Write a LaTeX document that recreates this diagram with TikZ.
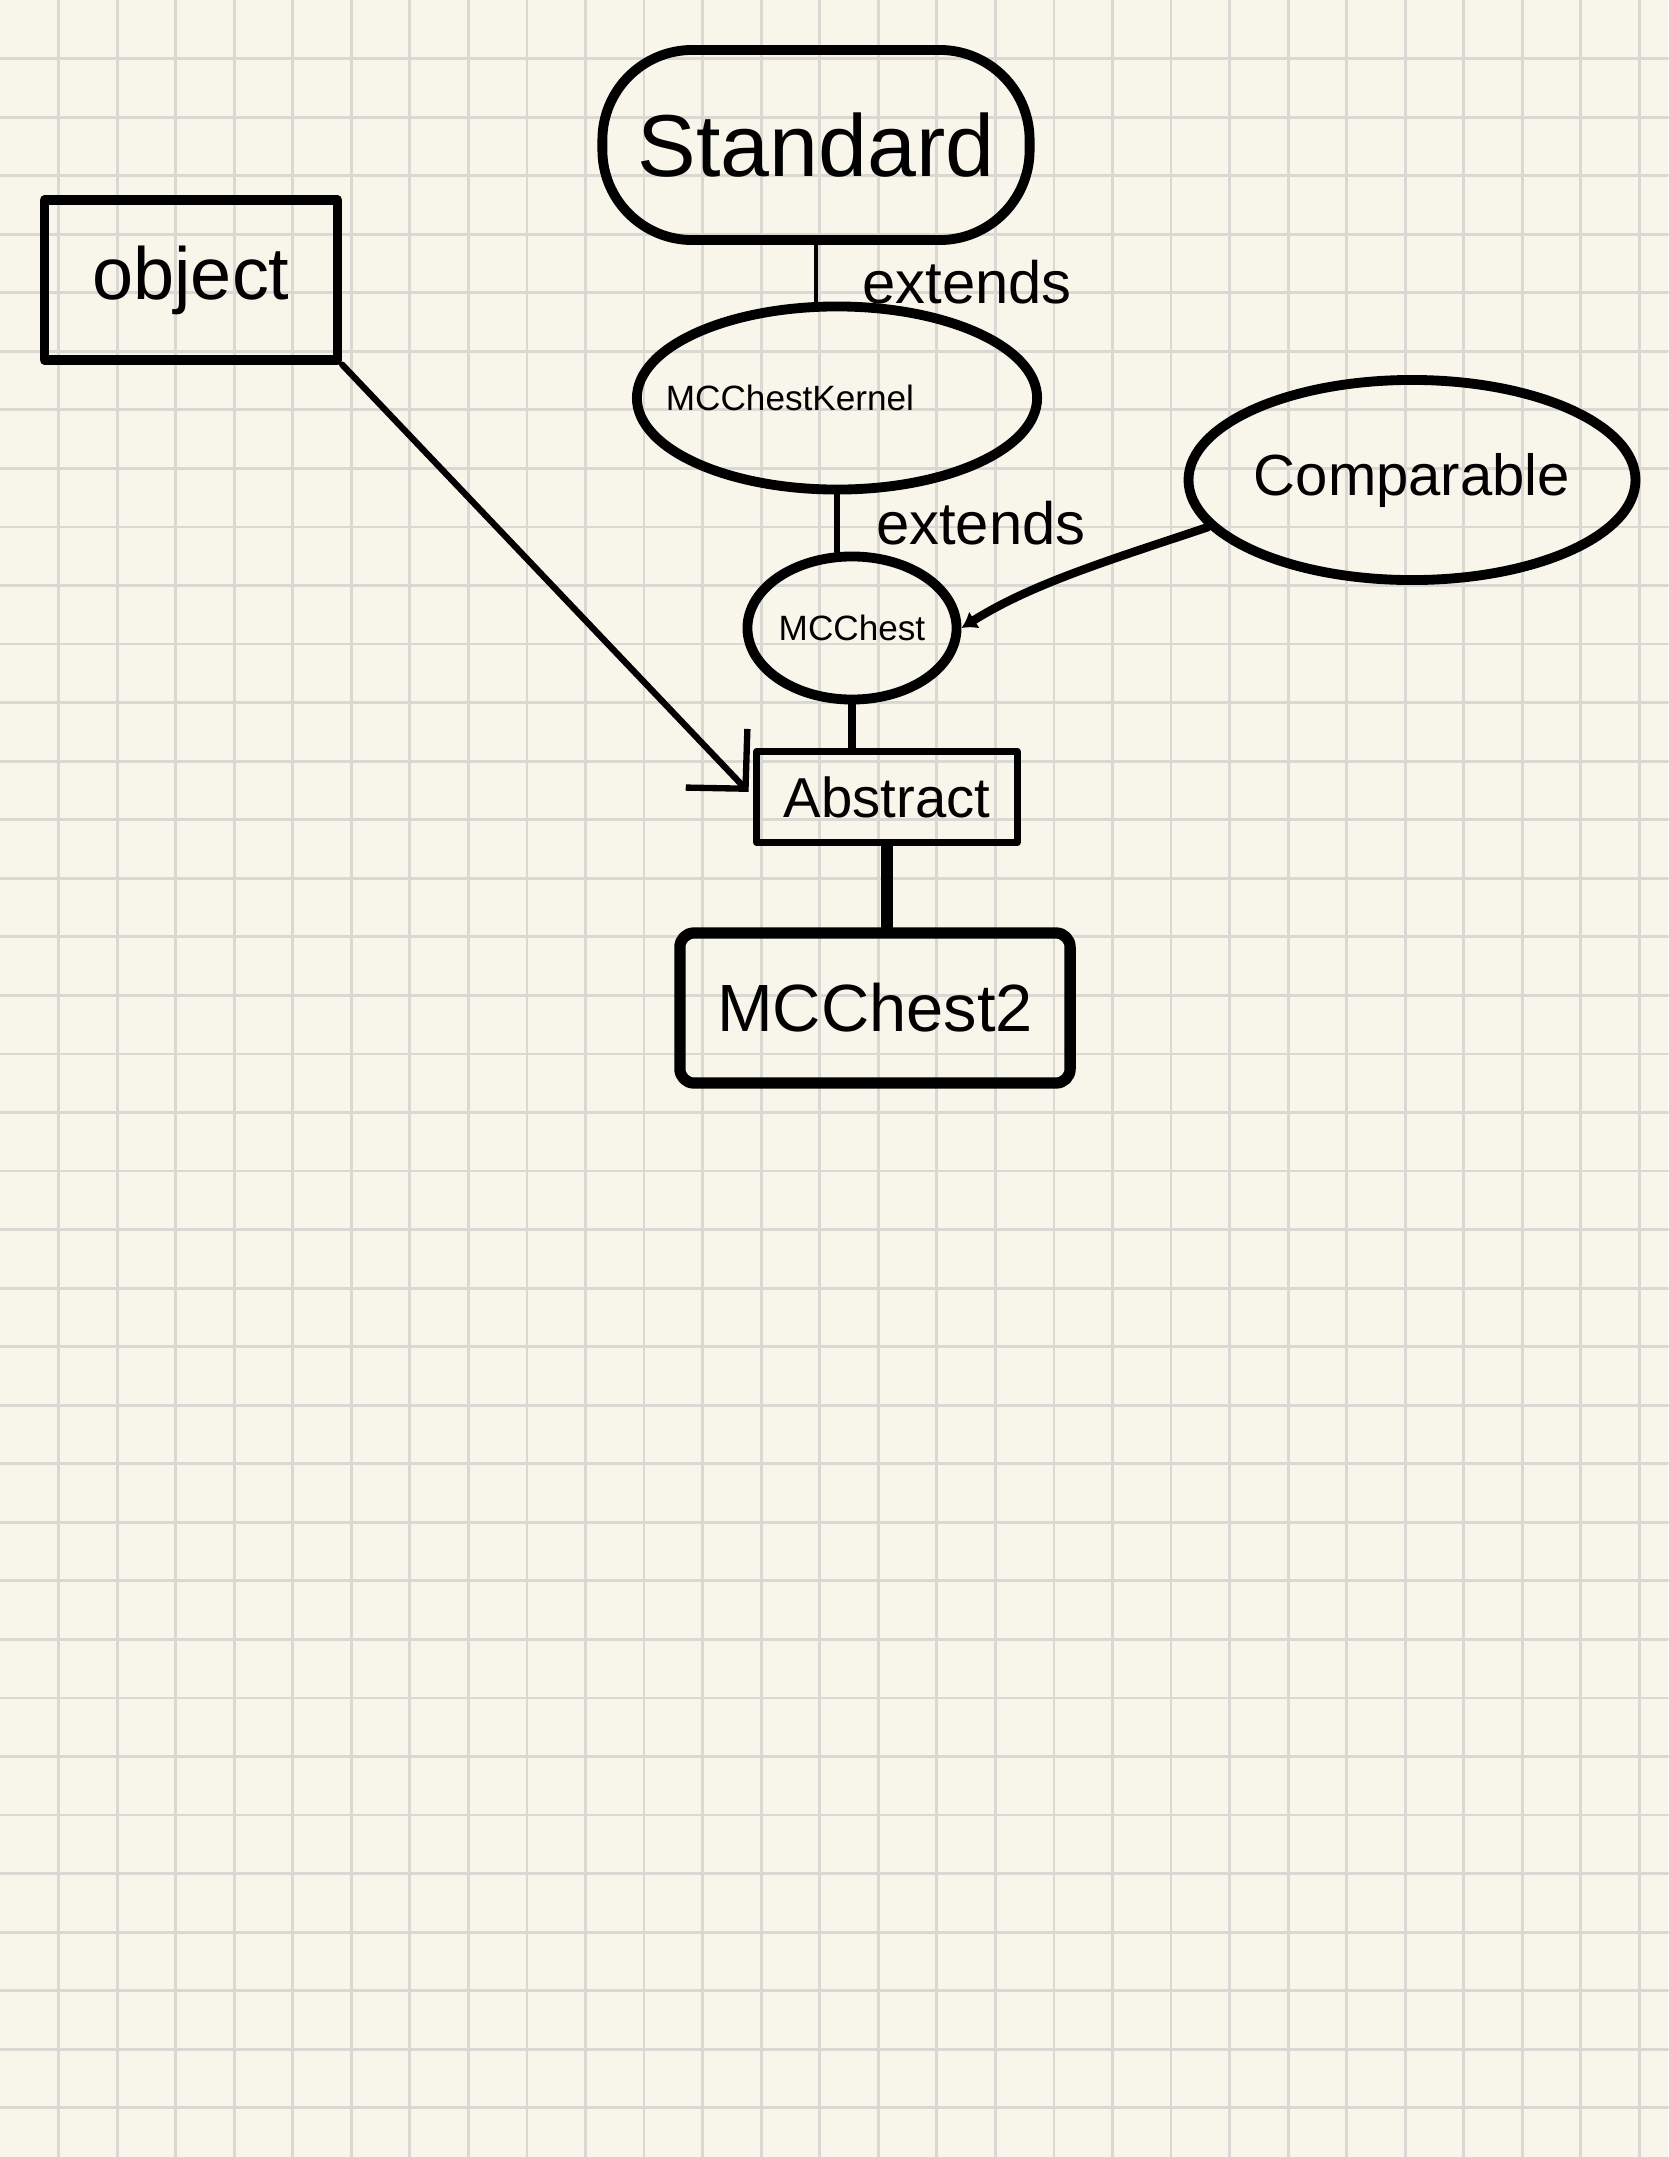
\documentclass[tikz,border=0pt]{standalone}
\usepackage{fontspec}
\setmainfont{Liberation Sans}
\usetikzlibrary{positioning,shapes.geometric,arrows.meta}
\definecolor{paper}{HTML}{F8F6EA}
\definecolor{gridgray}{HTML}{D9D8D3}

\begin{document}
\begin{tikzpicture}[x=0.01cm,y=-0.01cm,line cap=round,line join=round,
  blob/.style={draw,ellipse,line width=2.8pt,inner sep=0pt},
  box/.style={draw,rectangle,line width=2.6pt,inner sep=0pt},
  link/.style={line width=1.8pt},
  gridline/.style={gridgray,line width=0.8pt},
  lbl/.style={font=\fontsize{17}{20}\selectfont,inner sep=0pt,anchor=west}]
\useasboundingbox (0,0) rectangle (1668,2157);
\fill [paper] (0,0) rectangle (1668,2157);
\foreach \k in {1,...,28}
  \draw [gridline] (\k*58.55,0) -- (\k*58.55,2157);
\foreach \k in {1,...,36}
  \draw [gridline] (0,\k*58.55) -- (1668,\k*58.55);
\node [box,minimum width=2.93cm,minimum height=1.6cm,font=\fontsize{21}{24}\selectfont] (object) at (191,280) {object};
\node [draw,line width=2.8pt,rounded corners=0.9cm,inner sep=0pt,minimum width=4.27cm,minimum height=1.9cm,font=\fontsize{25}{30}\selectfont] (standard) at (816,145) {Standard};
\node [blob,minimum width=4cm,minimum height=1.83cm,label={[font=\fontsize{10}{12}\selectfont,xshift=-0.47cm]center:MCChestKernel}] (kernel) at (837,398) {};
\node [blob,minimum width=2.09cm,minimum height=1.43cm,font=\fontsize{10}{12}\selectfont] (mcchest) at (852,628) {MCChest};
\node [blob,minimum width=4.09cm,minimum height=2cm,font=\fontsize{16.5}{20}\selectfont] (comparable) at (1412,480) {Comparable};
\node [box,line width=2pt,minimum width=2.6cm,minimum height=0.91cm,font=\fontsize{16}{19}\selectfont] (abstract) at (887,797) {Abstract};
\node [box,line width=3.2pt,rounded corners=4pt,minimum width=3.9cm,minimum height=1.5cm,font=\fontsize{19}{23}\selectfont] (mcchest2) at (875,1008) {MCChest2};
\draw [link,line width=1.4pt] (standard.south) -- (standard.south |- kernel.north) node [lbl,midway,xshift=0.44cm,yshift=-0.09cm] {extends};
\draw [link] (kernel.south) -- (kernel.south |- mcchest.north) node [lbl,midway,xshift=0.36cm] {extends};
\draw [link,line width=2.2pt] (mcchest.south) -- (mcchest.south |- abstract.north);
\draw [link,line width=3.4pt] (abstract.south) -- (abstract.south |- mcchest2.north);
\draw [link,shorten >=0.07cm,-{Straight Barb[length=0.42cm,width=0.85cm]}] (object.south east) -- (abstract.west);
\draw [link,line width=2.4pt,-{Latex[length=0.15cm,width=0.2cm]}] (comparable.193) .. controls (1100,563) and (1030,585) .. (mcchest.east);
\end{tikzpicture}
\end{document}
